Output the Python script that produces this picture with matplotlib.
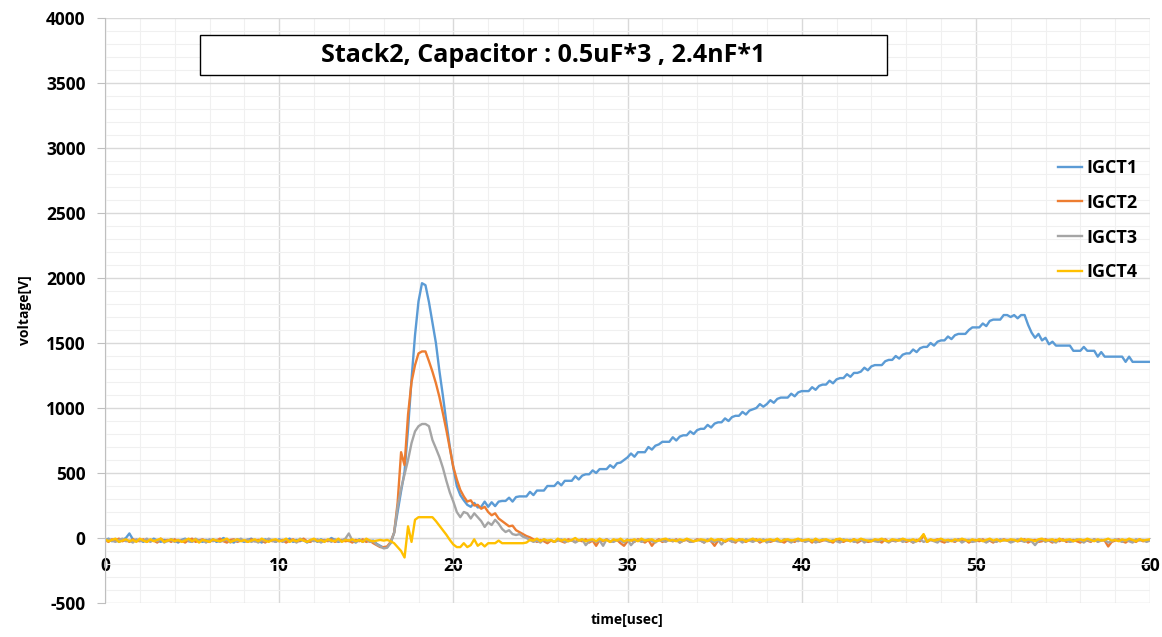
import numpy as np
import matplotlib
matplotlib.use("Agg")
import matplotlib.pyplot as plt
from matplotlib.patches import Rectangle
from matplotlib.ticker import MultipleLocator

plt.rcParams['font.family'] = ['Open Sans', 'DejaVu Sans']
plt.rcParams['axes.unicode_minus'] = False

# ---------------- data ----------------
title_text = "Stack2, Capacitor : 0.5uF*3 , 2.4nF*1"
series_names = ["IGCT1", "IGCT2", "IGCT3", "IGCT4"]
x_label = "time[usec]"
y_label = "voltage[V]"
x_ticks = [0, 10, 20, 30, 40, 50, 60]
y_ticks = [-500, 0, 500, 1000, 1500, 2000, 2500, 3000, 3500, 4000]

time_us = np.round(np.arange(0, 60.0001, 0.2), 1)

igct1 = [
    -20, -5, -25, -10, -30, -15, 0, 35, -10, -25,
    -15, -30, -10, -25, -5, -20, -30, -15, -25, -10,
    -20, -35, -15, -5, -25, -30, -10, -20, -30, -15,
    -25, -10, -30, -20, 0, -15, -25, -35, -10, -20,
    -30, -15, -5, -25, -20, -35, -10, -25, -15, -30,
    -10, -25, -20, -5, -30, -15, -25, -10, -35, -20,
    -15, -30, -10, -25, -20, 0, -15, -30, -20, -10,
    -25, -20, -35, -10, -30, -15, -25, -20, -45, -60,
    -75, -70, -40, 40, 200, 360, 510, 840, 1220, 1560,
    1820, 1960, 1945, 1815, 1660, 1500, 1285, 1095, 890, 700,
    540, 400, 330, 290, 255, 240, 270, 235, 240, 280,
    240, 275, 245, 280, 285, 285, 310, 280, 315, 320,
    320, 320, 355, 330, 365, 365, 365, 400, 400, 400,
    430, 405, 440, 440, 440, 475, 450, 480, 490, 490,
    520, 500, 530, 530, 530, 560, 540, 575, 580, 600,
    620, 650, 625, 660, 660, 660, 700, 680, 710, 720,
    740, 740, 740, 775, 750, 780, 790, 790, 820, 800,
    830, 840, 840, 870, 850, 880, 890, 890, 920, 900,
    930, 940, 940, 970, 950, 980, 990, 1000, 1030, 1010,
    1030, 1060, 1040, 1070, 1080, 1080, 1080, 1110, 1090, 1120,
    1130, 1130, 1130, 1160, 1140, 1170, 1180, 1180, 1210, 1190,
    1220, 1230, 1230, 1260, 1240, 1270, 1270, 1280, 1310, 1290,
    1320, 1330, 1330, 1330, 1360, 1370, 1370, 1400, 1380, 1410,
    1420, 1420, 1450, 1430, 1460, 1470, 1470, 1500, 1480, 1510,
    1520, 1520, 1550, 1530, 1560, 1570, 1570, 1570, 1600, 1620,
    1620, 1620, 1650, 1630, 1670, 1680, 1680, 1680, 1715, 1715,
    1700, 1715, 1690, 1715, 1715, 1640, 1580, 1540, 1570, 1520,
    1540, 1490, 1510, 1480, 1480, 1480, 1480, 1480, 1440, 1440,
    1440, 1470, 1440, 1440, 1440, 1395, 1430, 1395, 1395, 1395,
    1395, 1395, 1395, 1355, 1395, 1355, 1355, 1355, 1355, 1355,
    1355,
]

igct2 = [
    -15, -30, -10, -20, -5, -25, -15, -30, -10, -20,
    -25, -10, -30, -15, -20, -35, -5, -25, -15, -30,
    -10, -25, -20, -35, -15, -5, -30, -20, -10, -25,
    -30, -15, -20, -5, -25, -35, -15, -10, -30, -20,
    -20, -30, -10, -25, -15, -20, -35, -10, -25, -15,
    -25, -15, -35, -20, -10, -30, -20, -5, -25, -30,
    -10, -20, -30, -15, -25, -10, -30, -20, -15, -25,
    -20, -35, -15, -25, -10, -30, -20, -40, -55, -70,
    -70, -65, -30, 40, 270, 660, 560, 950, 1200, 1330,
    1420, 1435, 1435, 1360, 1280, 1190, 1085, 960, 830, 690,
    546, 450, 370, 320, 280, 290, 250, 255, 225, 240,
    200, 175, 190, 150, 130, 110, 90, 95, 60, 45,
    30, 15, 5, -10, -30, -15, -25, -40, -20, -30,
    -15, -25, -35, -10, -20, -30, -15, -25, -10, -35,
    -20, -60, -15, -25, -10, -30, -20, -15, -40, -60,
    -25, -15, -30, -10, -20, -35, -15, -60, -25, -10,
    -30, -20, -15, -25, -10, -35, -20, -15, -30, -25,
    -10, -20, -35, -15, -25, -60, -20, -10, -30, -15,
    -25, -35, -10, -20, -30, -15, -25, -10, -35, -20,
    -15, -30, -20, -10, -25, -35, -15, -20, -30, -10,
    -20, -25, -15, -35, -10, -30, -20, -15, -25, -35,
    -10, -20, -30, -15, -25, -10, -35, -20, -15, -30,
    -25, -15, -20, -35, -10, -30, -20, -25, -15, -10,
    -30, -20, -35, -15, -25, 25, -30, -15, -20, -10,
    -25, -35, -15, -20, -30, -10, -25, -15, -35, -20,
    -15, -25, -10, -30, -20, -35, -15, -25, -10, -20,
    -30, -15, -25, -20, -10, -35, -20, -15, -30, -25,
    -10, -20, -35, -15, -25, -10, -30, -20, -15, -25,
    -35, -15, -20, -30, -10, -25, -15, -20, -65, -30,
    -20, -10, -25, -35, -15, -20, -30, -10, -25, -20,
    -15,
]

igct3 = [
    -25, -10, -20, -30, -15, -5, -25, -20, -35, -10,
    -20, -25, -5, -30, -15, -25, -10, -35, -20, -15,
    -30, -15, -25, -10, -20, -30, -5, -25, -15, -35,
    -10, -25, -15, -30, -20, -10, -35, -15, -25, -5,
    -25, -10, -30, -20, -35, -15, -25, -5, -20, -30,
    -15, -30, -10, -25, -20, -35, -5, -20, -30, -15,
    -25, -10, -35, -20, -15, -30, -10, -25, -20, -5,
    35, -20, -30, -15, -25, -10, -30, -25, -50, -65,
    -80, -75, -35, 40, 240, 380, 490, 600, 730, 820,
    860, 877, 877, 860, 754, 690, 623, 540, 440, 350,
    280, 200, 160, 200, 190, 150, 190, 160, 130, 85,
    120, 100, 140, 110, 70, 46, 60, 30, 23, 30,
    10, 0, -15, -30, -20, -35, -10, -25, -15, -30,
    -20, -10, -30, -25, -15, -35, -20, -10, -55, -25,
    -15, -30, -20, -60, -10, -25, -30, -15, -20, -35,
    -10, -55, -25, -15, -30, -20, -10, -25, -35, -15,
    -20, -30, -10, -25, -15, -35, -20, -10, -30, -25,
    -15, -20, -35, -10, -25, -30, -15, -50, -20, -10,
    -30, -25, -15, -35, -10, -20, -30, -15, -25, -10,
    -35, -20, -15, -25, -30, -10, -20, -35, -15, -25,
    -10, -30, -20, -15, -35, -25, -10, -20, -30, -15,
    -25, -35, -10, -20, -15, -30, -25, -10, -35, -20,
    -15, -25, -30, -10, -20, -35, -15, -25, -10, -30,
    -20, -15, -35, -25, -10, -30, -20, -15, -25, -35,
    -10, -20, -30, -15, -25, -10, -35, -20, -15, -30,
    -25, -10, -20, -35, -15, -25, -30, -10, -20, -15,
    -35, -25, -10, -20, -30, -15, -25, -55, -20, -10,
    -30, -15, -25, -35, -10, -20, -15, -30, -25, -10,
    -20, -35, -15, -25, -10, -30, -20, -15, -35, -25,
    -10, -20, -30, -15, -25, -35, -10, -20, -15, -30,
    -20,
]

igct4 = [
    -10, -25, -15, -5, -30, -20, -10, -25, -15, -30,
    -5, -20, -30, -10, -25, -15, -5, -30, -20, -10,
    -25, -15, -30, -20, -5, -25, -10, -35, -15, -20,
    -30, -10, -20, -25, -15, -5, -30, -20, -10, -25,
    -15, -30, -20, -10, -25, -5, -20, -30, -15, -10,
    -25, -20, -5, -30, -15, -25, -10, -20, -30, -15,
    -5, -25, -15, -30, -10, -20, -25, -5, -30, -15,
    -20, -10, -25, -15, -30, -5, -20, -25, -20, -15,
    -20, -15, -25, -40, -70, -100, -150, 90, -30, 140,
    160, 160, 160, 160, 160, 130, 95, 60, 25, -15,
    -50, -70, -70, -40, -70, -55, -10, -60, -40, -65,
    -40, -40, -40, -20, -40, -40, -40, -40, -40, -40,
    -40, -35, -15, -20, -5, -25, -10, -20, -15, -30,
    -5, -20, -10, -25, -15, 0, -20, -10, -25, -15,
    -10, -25, -5, -20, -15, -30, -10, -20, -5, -25,
    -15, -20, -10, -25, -5, -20, -15, -10, -25, -20,
    -10, -5, -20, -15, -25, -10, -20, -5, -15, -25,
    -20, -10, -15, -25, -5, -20, -10, -15, -25, -10,
    -5, -20, -15, -10, -25, -15, -5, -20, -10, -25,
    -15, -10, -20, -5, -25, -15, -10, -20, -15, -5,
    -20, -15, -10, -25, -5, -20, -15, -10, -20, -25,
    -10, -5, -20, -15, -25, -10, -20, -5, -15, -20,
    -25, -10, -15, -5, -20, -25, -10, -15, -20, -5,
    -15, -20, -10, -25, -5, 30, -30, -10, -20, -15,
    -5, -20, -15, -25, -10, -20, -5, -15, -25, -10,
    -20, -10, -25, -15, -5, -20, -10, -25, -15, -20,
    -10, -15, -25, -5, -20, -10, -15, -25, -10, -5,
    -20, -15, -10, -25, -5, -20, -15, -10, -25, -15,
    -10, -20, -5, -15, -25, -10, -20, -15, -5, -20,
    -15, -25, -10, -20, -5, -15, -25, -10, -20, -15,
    -10,
]

series_values = [igct1, igct2, igct3, igct4]
series_colors = ["#5B9BD5", "#ED7D31", "#A5A5A5", "#FFC000"]

# ---------------- figure ----------------
W, H = 1162, 637
fig = plt.figure(figsize=(W / 100, H / 100), dpi=100)
ax = fig.add_axes([105 / W, 1 - 603 / H, (1150 - 105) / W, (603 - 18) / H])

for name, vals, col in zip(series_names, series_values, series_colors):
    ax.plot(time_us, vals, color=col, lw=1.7, label=name, solid_joinstyle='round')

ax.set_xlim(0, 60)
ax.set_ylim(-500, 4000)
ax.set_xticks(x_ticks)
ax.set_yticks(y_ticks)
ax.xaxis.set_minor_locator(MultipleLocator(2))
ax.yaxis.set_minor_locator(MultipleLocator(100))

ax.grid(which='major', color='#d9d9d9', lw=1.0)
ax.grid(which='minor', color='#f0f0f0', lw=0.8)
ax.set_axisbelow(True)

for s in ['top', 'right']:
    ax.spines[s].set_visible(False)
ax.spines['left'].set_color('#bfbfbf')
ax.spines['bottom'].set_position(('data', 0))
ax.spines['bottom'].set_color('#bfbfbf')
ax.spines['bottom'].set_zorder(0.5)

ax.tick_params(axis='y', which='major', length=6, color='#bfbfbf', pad=8,
               labelsize=12.5)
ax.tick_params(axis='x', which='major', length=0, pad=14, labelsize=12.5)
ax.tick_params(which='minor', length=0)
for lab in ax.get_xticklabels() + ax.get_yticklabels():
    lab.set_fontweight('bold')

ax.set_xlabel(x_label, fontsize=10, fontweight='bold')
ax.set_ylabel(y_label, fontsize=10, fontweight='bold')
ax.xaxis.set_label_coords((627 - 105) / 1045, (603 - 620) / 585)
ax.yaxis.set_label_coords((25 - 105) / 1045, (603 - 310) / 585)
ax.xaxis.label.set_va('center')
ax.yaxis.label.set_va('center')

# title box
fig.patches.append(Rectangle((200 / W, 1 - 75 / H), 687 / W, 40 / H,
                             transform=fig.transFigure, facecolor='white',
                             edgecolor='black', lw=1.0, zorder=5))
fig.text(543.5 / W, 1 - 56 / H, title_text, ha='center', va='center',
         fontsize=18, fontweight='bold', zorder=6)

leg = ax.legend(loc='upper left', bbox_to_anchor=(1058 / W, 1 - 159 / H),
                bbox_transform=fig.transFigure, frameon=False,
                fontsize=13, handlelength=1.35, handletextpad=0.2,
                labelspacing=0.93, borderpad=0, borderaxespad=0)
for t in leg.get_texts():
    t.set_fontweight('bold')

fig.savefig("out.png", dpi=100, facecolor='white')
